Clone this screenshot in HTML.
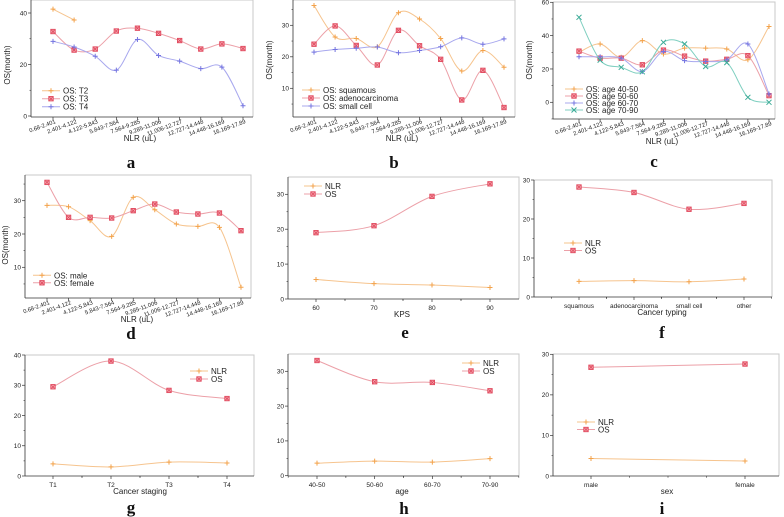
<!DOCTYPE html>
<html><head><meta charset="utf-8">
<style>
html,body{margin:0;padding:0;background:#fff;}
svg{display:block;font-family:"Liberation Sans",sans-serif;}
.tk{font-size:6.5px;fill:#222;}
.tkr{font-size:5.8px;fill:#222;}
.lg{font-size:8px;fill:#222;}
.ax{font-size:8px;fill:#222;}
.lt{font-family:"Liberation Serif",serif;font-weight:bold;font-size:17px;fill:#111;}
</style></head>
<body>
<svg id="fig" width="784" height="517" viewBox="0 0 784 517" xmlns="http://www.w3.org/2000/svg"></svg>
<script>
// ---- data ----
const nlrCats = ["0.68-2.401","2.401-4.122","4.122-5.843","5.843-7.564","7.564-9.285","9.285-11.006","11.006-12.727","12.727-14.448","14.448-16.169","16.169-17.89"];
const aT2 = [41.5,37.3];
const aT3 = [32.8,25.6,26,33,34.1,32.1,29.3,26,28,26.2];
const aT4 = [29,26.8,23.2,17.8,29.7,23.5,21.3,18.4,19,4];
const bSquamous = [36.3,26.3,25.8,23.2,34,32,25.8,15.5,22,16.7];
const bAdeno = [24,29.8,23.6,17.4,28.4,23.5,19.2,6.3,15.7,3.9];
const bSmall = [21.5,22.3,22.7,23.1,21.3,22,23.2,26,24,25.7];
const cAge4050 = [30,35,27,37,29,32.5,32.5,32,25.5,45.5];
const cAge5060 = [30.7,26.5,26.5,22.5,31.3,27.7,24.7,25.8,28,4];
const cAge6070 = [27.3,27.3,26.5,18.5,30.5,25,24.5,25.5,35,5];
const cAge7090 = [51,25.3,21,18.3,36,35,21.5,23.8,3,0];
const dMale = [28.6,28.2,24,19.3,31,27.3,23,22.3,22,4];
const dFemale = [35.5,25,25,24.8,27,29,26.6,26,26.3,21];
const eCats = ["60","70","80","90"];
const eNLR = [5.6,4.4,4,3.3];
const eOS = [19,21,29.4,33];
const fCats = ["squamous","adenocarcinoma","small cell","other"];
const fNLR = [4,4.2,3.9,4.6];
const fOS = [28.2,26.8,22.5,24];
const gCats = ["T1","T2","T3","T4"];
const gNLR = [4,3,4.6,4.3];
const gOS = [29.5,38,28.3,25.6];
const hCats = ["40-50","50-60","60-70","70-90"];
const hNLR = [3.6,4.2,3.9,4.9];
const hOS = [33.1,27,26.8,24.4];
const iCats = ["male","female"];
const iNLR = [4.3,3.7];
const iOS = [26.8,27.6];
const ticksA = [0,20,40], ticksB = [10,20,30], ticksC = [0,20,40,60], ticksD = [10,20,30];
const ticksE = [0,10,20,30], ticksG = [0,10,20,30,40], ticksI = [0,10,20,30];

const NS = "http://www.w3.org/2000/svg";
const fig = document.getElementById('fig');
const COL = {orange:"#f3a24a", red:"#e0455a", blue:"#7474e0", teal:"#3aaa96"};
const LINE = {orange:"#f6c48e", red:"#eca0a8", blue:"#a8a8ee", teal:"#7fcfc0"};

function mk(tag, attrs, parent){
  const e = document.createElementNS(NS, tag);
  for (const k in attrs) e.setAttribute(k, attrs[k]);
  (parent||fig).appendChild(e);
  return e;
}
function smooth(pts){
  if (pts.length < 2) return "";
  let d = "M"+pts[0][0]+","+pts[0][1];
  for (let i=0;i<pts.length-1;i++){
    const p0 = pts[i-1]||pts[i], p1=pts[i], p2=pts[i+1], p3=pts[i+2]||pts[i+1];
    const c1x=p1[0]+(p2[0]-p0[0])/6, c1y=p1[1]+(p2[1]-p0[1])/6;
    const c2x=p2[0]-(p3[0]-p1[0])/6, c2y=p2[1]-(p3[1]-p1[1])/6;
    d += " C"+c1x+","+c1y+" "+c2x+","+c2y+" "+p2[0]+","+p2[1];
  }
  return d;
}
function marker(g, x, y, type, color){
  if (type==="plus"){
    const m = mk('path',{d:`M${x-2.5},${y}H${x+2.5}M${x},${y-2.5}V${y+2.5}`,stroke:COL[color],'stroke-width':1},g);
    
    
  } else if (type==="sq"){
    const m = mk('rect',{x:x-2.2,y:y-2.2,width:4.4,height:4.4,fill:"#f7b3bb",stroke:COL[color],'stroke-width':0.9},g);
    
    
    mk('path',{d:`M${x-1.5},${y-1.5}L${x+1.5},${y+1.5}M${x+1.5},${y-1.5}L${x-1.5},${y+1.5}`,stroke:COL[color],'stroke-width':0.8},g);
  } else {
    const m = mk('path',{d:`M${x-2.5},${y-2.5}L${x+2.5},${y+2.5}M${x+2.5},${y-2.5}L${x-2.5},${y+2.5}`,stroke:COL[color],'stroke-width':1},g);
    
    
  }
}
function panel(o){
  const g = mk('g',{});
  
  
  const yS = v => o.py0 + (v - o.v0) * (o.py1 - o.py0) / (o.v1 - o.v0);
  const n = o.cats.length;
  const xS = i => n===1 ? o.xf : o.xf + i*(o.xl-o.xf)/(n-1);
  mk('path',{d:`M${o.L},${o.T}H${o.R}V${o.B}`,stroke:"#c8c8c8",'stroke-width':1,fill:"none"},g);
  const ya = mk('line',{x1:o.L,y1:o.T,x2:o.L,y2:o.B,stroke:"#333",'stroke-width':0.8},g);
  
  
  const xa = mk('line',{x1:o.L,y1:o.B,x2:o.R,y2:o.B,stroke:"#333",'stroke-width':0.8},g);
  
  
  const step = o.ticks[1]-o.ticks[0];
  o.ticks.forEach(v=>{
    const y = yS(v);
    mk('line',{x1:o.L-3,y1:y,x2:o.L,y2:y,stroke:"#333",'stroke-width':0.7},g);
    const mv = v+step/2, my = yS(mv);
    if (my>o.T) mk('line',{x1:o.L-1.5,y1:my,x2:o.L,y2:my,stroke:"#333",'stroke-width':0.6},g);
    const t = mk('text',{x:o.L-4,y:y+2.3,'text-anchor':'end',class:'tk'},g);
    t.textContent = v;
    
    
  });
  const m0 = yS(o.ticks[0]-step/2);
  if (m0<o.B) mk('line',{x1:o.L-1.5,y1:m0,x2:o.L,y2:m0,stroke:"#333",'stroke-width':0.6},g);
  const dx = n>1 ? (o.xl-o.xf)/(n-1) : 0;
  o.cats.forEach((c,i)=>{
    const x = xS(i);
    mk('line',{x1:x,y1:o.B,x2:x,y2:o.B+3,stroke:"#333",'stroke-width':0.7},g);
    if (o.minor) {
      [x-dx/2, x+dx/2].forEach(mx=>{ if (mx>o.L && mx<o.R) mk('line',{x1:mx,y1:o.B,x2:mx,y2:o.B+1.8,stroke:"#333",'stroke-width':0.6},g); });
    }
    let t;
    if (o.rot){
      t = mk('text',{x:x+3,y:o.B+6,'text-anchor':'end',class:'tkr',transform:`rotate(-20 ${x+3} ${o.B+6})`},g);
    } else {
      t = mk('text',{x:x,y:o.B+11,'text-anchor':'middle',class:'tk'},g);
    }
    t.textContent = c;
    
    
  });
  if (o.extraTicks) o.extraTicks.forEach(x=>mk('line',{x1:x,y1:o.B,x2:x,y2:o.B+1.8,stroke:"#333",'stroke-width':0.6},g));
  o.series.forEach(s=>{
    const pts = s.vals.map((v,i)=>[xS(i), yS(v)]);
    const p = mk('path',{d:smooth(pts),stroke:LINE[s.color],'stroke-width':1,fill:'none'},g);
    
    
    pts.forEach(pt=>marker(g, pt[0], pt[1], s.marker, s.color));
  });
  o.series.forEach((s,i)=>{
    const y = o.lgy + i*o.lgdy;
    mk('line',{x1:o.lgx,y1:y,x2:o.lgx+18,y2:y,stroke:LINE[s.color],'stroke-width':1},g);
    marker(g, o.lgx+9, y, s.marker, s.color);
    const t = mk('text',{x:o.lgx+21,y:y+3,class:'lg'},g);
    t.textContent = s.name;
    
    
  });
  const xl = mk('text',{x:o.xlx,y:o.xly,'text-anchor':'middle',class:'ax'},g);
  xl.textContent = o.xlabel;
  
  
  if (o.ylabel){
    const yl = mk('text',{x:o.ylx,y:o.yly,'text-anchor':'middle',class:'ax',transform:`rotate(-90 ${o.ylx} ${o.yly})`},g);
    yl.textContent = o.ylabel;
    
    
  }
  const lt = mk('text',{x:o.ltx,y:o.lty,'text-anchor':'middle',class:'lt'},g);
  lt.textContent = o.letter;
  
  
}

panel({id:'panel-a',L:31,T:0,R:253,B:117,v0:0,py0:116,v1:40,py1:13,ticks:ticksA,cats:nlrCats,xf:53,xl:243,rot:true,
  series:[{key:'t2',name:'OS: T2',vals:aT2,color:'orange',marker:'plus'},{key:'t3',name:'OS: T3',vals:aT3,color:'red',marker:'sq'},{key:'t4',name:'OS: T4',vals:aT4,color:'blue',marker:'plus'}],
  lgx:42,lgy:90.7,lgdy:8,xlabel:'NLR (uL)',xlx:140,xly:141,ylabel:'OS(month)',ylx:10,yly:65,letter:'a',ltx:131,lty:168});
panel({id:'panel-b',L:293,T:0,R:515,B:117,v0:10,py0:88.3,v1:30,py1:25.3,ticks:ticksB,cats:nlrCats,xf:314,xl:504,rot:true,
  series:[{key:'squamous',name:'OS: squamous',vals:bSquamous,color:'orange',marker:'plus'},{key:'adeno',name:'OS: adenocarcinoma',vals:bAdeno,color:'red',marker:'sq'},{key:'small',name:'OS: small cell',vals:bSmall,color:'blue',marker:'plus'}],
  lgx:302,lgy:90,lgdy:8,xlabel:'NLR (uL)',xlx:402,xly:141,ylabel:'OS(month)',ylx:272,yly:60,letter:'b',ltx:394,lty:168});
panel({id:'panel-c',L:553,T:2,R:775,B:119,v0:0,py0:102.3,v1:60,py1:2.3,ticks:ticksC,cats:nlrCats,xf:579,xl:769,rot:true,
  series:[{key:'a4050',name:'OS: age 40-50',vals:cAge4050,color:'orange',marker:'plus'},{key:'a5060',name:'OS: age 50-60',vals:cAge5060,color:'red',marker:'sq'},{key:'a6070',name:'OS: age 60-70',vals:cAge6070,color:'blue',marker:'plus'},{key:'a7090',name:'OS: age 70-90',vals:cAge7090,color:'teal',marker:'x'}],
  lgx:565,lgy:89,lgdy:7,xlabel:'NLR (uL)',xlx:662,xly:144,ylabel:'OS(month)',ylx:532,yly:60,letter:'c',ltx:654,lty:167});
panel({id:'panel-d',L:25,T:175,R:251,B:298,v0:10,py0:267.3,v1:30,py1:200.7,ticks:ticksD,cats:nlrCats,xf:47,xl:241,rot:true,
  series:[{key:'male',name:'OS: male',vals:dMale,color:'orange',marker:'plus'},{key:'female',name:'OS: female',vals:dFemale,color:'red',marker:'sq'}],
  lgx:33,lgy:275.3,lgdy:7.5,xlabel:'NLR (uL)',xlx:137,xly:322,ylabel:'OS(month)',ylx:8,yly:245,letter:'d',ltx:131,lty:339});
panel({id:'panel-e',L:288,T:177,R:519,B:299,v0:0,py0:299,v1:30,py1:194.3,ticks:ticksE,cats:eCats,xf:316,xl:490,minor:true,
  series:[{key:'nlr',name:'NLR',vals:eNLR,color:'orange',marker:'plus'},{key:'os',name:'OS',vals:eOS,color:'red',marker:'sq'}],
  lgx:304,lgy:186,lgdy:8,xlabel:'KPS',xlx:402,xly:317,letter:'e',ltx:405,lty:338});
panel({id:'panel-f',L:534,T:180,R:772,B:297,v0:0,py0:297,v1:30,py1:180,ticks:ticksE,cats:fCats,xf:579,xl:744,minor:true,
  series:[{key:'nlr',name:'NLR',vals:fNLR,color:'orange',marker:'plus'},{key:'os',name:'OS',vals:fOS,color:'red',marker:'sq'}],
  lgx:564,lgy:243,lgdy:7.5,xlabel:'Cancer typing',xlx:662,xly:315,letter:'f',ltx:662,lty:338});
panel({id:'panel-g',L:25,T:355,R:254,B:476,v0:0,py0:476,v1:40,py1:355,ticks:ticksG,cats:gCats,xf:53,xl:227,minor:true,
  series:[{key:'nlr',name:'NLR',vals:gNLR,color:'orange',marker:'plus'},{key:'os',name:'OS',vals:gOS,color:'red',marker:'sq'}],
  lgx:190,lgy:371,lgdy:8,xlabel:'Cancer staging',xlx:140,xly:494,letter:'g',ltx:131,lty:513});
panel({id:'panel-h',L:288,T:354,R:519,B:476,v0:0,py0:475.7,v1:30,py1:371.3,ticks:ticksE,cats:hCats,xf:317,xl:490,minor:true,
  series:[{key:'nlr',name:'NLR',vals:hNLR,color:'orange',marker:'plus'},{key:'os',name:'OS',vals:hOS,color:'red',marker:'sq'}],
  lgx:462,lgy:363,lgdy:8,xlabel:'age',xlx:402,xly:494,letter:'h',ltx:404,lty:514});
panel({id:'panel-i',L:553,T:354,R:779,B:476,v0:0,py0:476,v1:30,py1:354.3,ticks:ticksI,cats:iCats,xf:591,xl:745,
  extraTicks:[629.5,668,706.5],
  series:[{key:'nlr',name:'NLR',vals:iNLR,color:'orange',marker:'plus'},{key:'os',name:'OS',vals:iOS,color:'red',marker:'sq'}],
  lgx:577,lgy:422,lgdy:7.5,xlabel:'sex',xlx:667,xly:494,letter:'i',ltx:662,lty:514});
</script>
</body></html>
